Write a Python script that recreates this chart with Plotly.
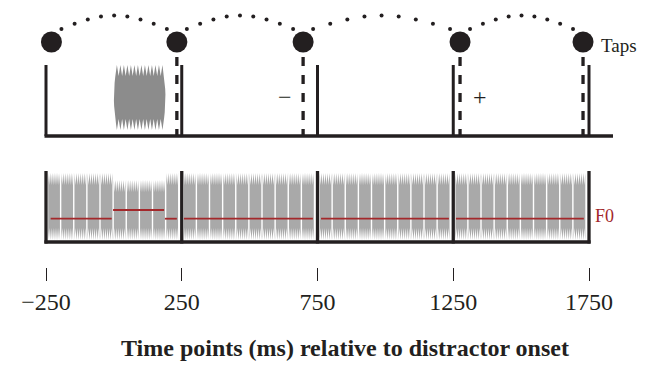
import numpy as np
import plotly.graph_objects as go

# ---------------- data ----------------
beat_times = [-250, 250, 750, 1250, 1750]        # metronome beats (ms)
tap_times = [-230, 232, 697, 1275, 1728]          # finger taps (ms)
distractor_onset = 0                              # ms
distractor_offset = 190                           # ms
f0_seg_start = [-233, -3, 188, 258, 763, 1260]    # F0 contour segments (ms)
f0_seg_end = [-8, 185, 232, 733, 1234, 1731]
f0_seg_level = [0, 1, 0, 0, 0, 0]                 # 1 = raised F0 (distractor)
tick_vals = [-250, 250, 750, 1250, 1750]
tick_text = ["\u2212250", "250", "750", "1250", "1750"]
minus_time = 630
plus_time = 1348
taps_label = "Taps"
f0_label = "F0"
x_title = "Time points (ms) relative to distractor onset"

# ---------------- style ----------------
DARK = "#231f20"
BURST = "#8c8c8c"
WAVE = "#a9a9a9"
RED = "#a3282b"
FONT = "Liberation Serif, Times New Roman, serif"
PX_PER_MS = 0.2715
W, H = 646, 367
X0_PX = 46                      # pixel position of first beat
GRAINS_PER_BEAT = 10


def ms(px):
    return px / PX_PER_MS


x_lo = beat_times[0] - ms(X0_PX)
x_hi = beat_times[0] + ms(W - X0_PX)

fig = go.Figure()


def add_segments(xs_pairs, ys_pairs, width, color, dash=None):
    xs, ys = [], []
    for (xa, xb), (ya, yb) in zip(xs_pairs, ys_pairs):
        xs += [xa, xb, None]
        ys += [ya, yb, None]
    fig.add_trace(go.Scatter(x=xs, y=ys, mode="lines",
                             line=dict(color=color, width=width, dash=dash),
                             hoverinfo="skip", showlegend=False))


# ---- top panel ----
base_y = 136
add_segments([(beat_times[0] - ms(1.5), beat_times[-1] + ms(24))], [(base_y, base_y)], 3.3, DARK)
add_segments([(b, b) for b in beat_times], [(65, base_y)] * len(beat_times), 3.0, DARK)
add_segments([(t, t) for t in tap_times[1:]], [(57, base_y)] * (len(tap_times) - 1),
             3.3, DARK, dash="9px,9px")

# gray distractor burst
bx, by = [], []
n_sp = 13
x_a, x_b = distractor_onset + ms(3), distractor_offset - ms(3)
top_tip, top_val, bot_val, bot_tip = 65, 76, 119, 130
step_b = (x_b - x_a) / n_sp
for k in range(n_sp + 1):
    xx = x_a + k * step_b
    bx.append(xx); by.append(top_tip)
    if k < n_sp:
        bx.append(xx + step_b / 2); by.append(top_val)
for yy in np.linspace(top_tip, bot_tip, 12)[1:-1]:
    bx.append(x_b + ms(3.0 * np.sin(np.pi * (yy - top_tip) / (bot_tip - top_tip)))); by.append(yy)
for k in range(n_sp, -1, -1):
    xx = x_a + k * step_b
    bx.append(xx); by.append(bot_tip)
    if k > 0:
        bx.append(xx - step_b / 2); by.append(bot_val)
for yy in np.linspace(bot_tip, top_tip, 12)[1:-1]:
    bx.append(x_a - ms(3.0 * np.sin(np.pi * (yy - top_tip) / (bot_tip - top_tip)))); by.append(yy)
fig.add_trace(go.Scatter(x=bx, y=by, mode="lines", fill="toself", fillcolor=BURST,
                         line=dict(width=0, color=BURST), hoverinfo="skip", showlegend=False))

# dotted arcs between taps
ax, ay = [], []
for ta, tb in zip(tap_times[:-1], tap_times[1:]):
    xa_, xb_ = ta + ms(10), tb - ms(10)
    for s in np.linspace(0, 1, 9):
        ax.append(xa_ + s * (xb_ - xa_))
        ay.append(29 - 13.5 * np.sin(np.pi * s))
fig.add_trace(go.Scatter(x=ax, y=ay, mode="markers",
                         marker=dict(size=4, color=DARK, line=dict(width=0)),
                         hoverinfo="skip", showlegend=False))

# tap circles
fig.add_trace(go.Scatter(x=tap_times, y=[42] * len(tap_times), mode="markers",
                         marker=dict(size=21, color=DARK, line=dict(width=0)),
                         hoverinfo="skip", showlegend=False))

# ---- bottom panel: waveform grains ----
gx, gy = [], []
for b0, b1 in zip(beat_times[:-1], beat_times[1:]):
    s0, s1 = b0 + ms(1.5), b1 - ms(3)
    gw = (s1 - s0) / GRAINS_PER_BEAT
    for g in range(GRAINS_PER_BEAT):
        g0 = s0 + g * gw + ms(0.7)
        g1 = s0 + (g + 1) * gw - ms(0.7)
        center = (g0 + g1) / 2
        t_tip = 180 if distractor_onset <= center <= distractor_offset else 173
        t_val = t_tip + 12
        b_tip, b_val = 240, 228
        nsp = 6
        step = (g1 - g0) / nsp
        for k in range(nsp + 1):
            gx.append(g0 + k * step); gy.append(t_tip)
            if k < nsp:
                gx.append(g0 + (k + 0.5) * step); gy.append(t_val)
        for k in range(nsp, -1, -1):
            gx.append(g0 + k * step); gy.append(b_tip)
            if k > 0:
                gx.append(g0 + (k - 0.5) * step); gy.append(b_val)
        gx.append(g0); gy.append(t_tip)
        gx.append(None); gy.append(None)
fig.add_trace(go.Scatter(x=gx, y=gy, mode="lines", fill="toself", fillcolor=WAVE,
                         line=dict(width=0, color=WAVE), hoverinfo="skip", showlegend=False))

# box lines
add_segments([(b, b) for b in beat_times], [(171, 243.5)] * len(beat_times), 3.3, DARK)
add_segments([(beat_times[0] - ms(1.6), beat_times[-1] + ms(1.6))], [(242, 242)], 3.3, DARK)

# F0 contour
add_segments(list(zip(f0_seg_start, f0_seg_end)),
             [(218.7 - 8.7 * lv, 218.7 - 8.7 * lv) for lv in f0_seg_level], 1.8, RED)

# ---- text ----
annots = [
    dict(x=minus_time, y=97, text="\u2212", font=dict(size=24, color=DARK, family=FONT),
         xanchor="center", yanchor="middle"),
    dict(x=plus_time, y=97, text="+", font=dict(size=24, color=DARK, family=FONT),
         xanchor="center", yanchor="middle"),
    dict(x=beat_times[-1] + ms(10), y=45, text=taps_label,
         font=dict(size=19, color=DARK, family=FONT), xanchor="left", yanchor="middle"),
    dict(x=beat_times[-1] + ms(4), y=216, text=f0_label,
         font=dict(size=18, color=RED, family=FONT), xanchor="left", yanchor="middle"),
]
for a in annots:
    a.update(xref="x", yref="y", showarrow=False)
annots.append(dict(x=345 / W, y=(267 - 348) / 267, xref="paper", yref="paper",
                   text="<b>" + x_title + "</b>", showarrow=False,
                   font=dict(size=24, color=DARK, family=FONT),
                   xanchor="center", yanchor="middle"))

fig.update_layout(
    width=W, height=H,
    margin=dict(l=0, r=0, t=0, b=100, pad=0),
    paper_bgcolor="white", plot_bgcolor="white",
    annotations=annots,
    xaxis=dict(range=[x_lo, x_hi], showgrid=False, zeroline=False, showline=False,
               tickmode="array", tickvals=tick_vals, ticktext=tick_text,
               ticks="outside", ticklen=13, tickwidth=1.3, tickcolor=DARK,
               tickfont=dict(size=24, color=DARK, family=FONT), fixedrange=True),
    yaxis=dict(range=[267, 0], visible=False, fixedrange=True),
    showlegend=False,
)

fig.write_html("out.html", config={"displayModeBar": False},
               post_script="document.body.style.margin='0';document.body.style.overflow='hidden';")
